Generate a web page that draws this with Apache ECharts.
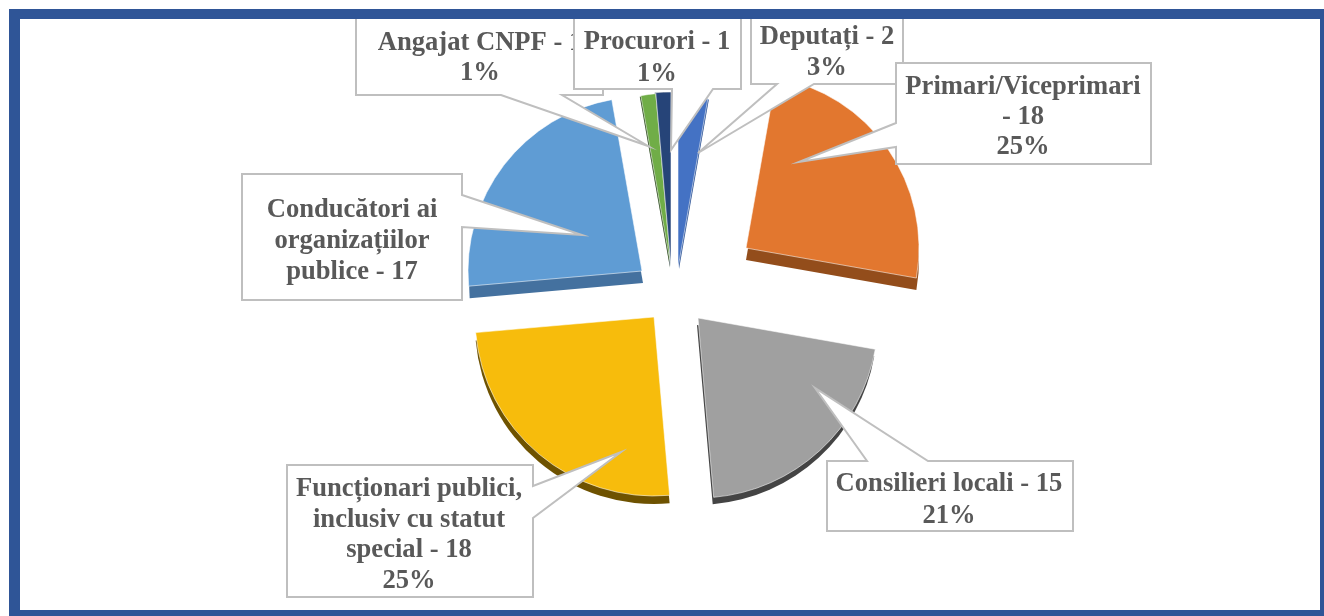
<!DOCTYPE html>
<html><head><meta charset="utf-8">
<style>html,body{margin:0;padding:0;background:#fff}#c{width:1324px;height:616px}</style>
<script src="https://cdn.jsdelivr.net/npm/echarts@6/dist/echarts.min.js"></script>
</head><body><div id="c"></div>
<script>
// data, clockwise from 12 o'clock
const categories = ['Deputați','Primari/Viceprimari','Consilieri locali','Funcționari publici, inclusiv cu statut special','Conducători ai organizațiilor publice','Angajat CNPF','Procurori'];
const seriesValues = [2,18,15,18,17,1,1];
const percentLabels = ['3%','25%','21%','25%','','1%','1%'];
const sliceColors = ['#4472c4','#e2772f','#a0a0a0','#f7bc0c','#5f9cd4','#70ad47','#264478'];
const sideColors = ['#2f5597','#934d1b','#444444','#6e5200','#44719f','#2b4a1c','#17294a'];

// exploded-slice layout (tip position, radius, extrusion offset)
const slices = [
  {c:[678,268], r:172, d:[1,1]},
  {c:[746,248], r:173, d:[0,12]},
  {c:[698,318], r:180, d:[-1,7]},
  {c:[654,317], r:179, d:[0,8]},
  {c:[642,271], r:174, d:[1,12]},
  {c:[671,267], r:174, d:[-1,1]},
  {c:[671,267], r:175, d:[-1,0]}
];

function pieFor(i, cx, cy, color, isTop){
  return {
    type:'pie', silent:true, clockwise:true, startAngle:90, animation:false,
    center:[cx,cy], radius:[0,slices[i].r], avoidLabelOverlap:false,
    label:{show:false}, labelLine:{show:false}, z:isTop?3:2,
    data: seriesValues.map((v,k)=>({
      value:v, name:categories[k],
      itemStyle: k===i
        ? (isTop?{color, borderColor:'rgba(255,255,255,0.55)', borderWidth:1}:{color})
        : {color:'rgba(0,0,0,0)', opacity:0}
    }))
  };
}
const series=[];
slices.forEach((s,i)=>series.push(pieFor(i,s.c[0]+s.d[0],s.c[1]+s.d[1],sideColors[i],false)));
slices.forEach((s,i)=>series.push(pieFor(i,s.c[0],s.c[1],sliceColors[i],true)));

// callouts, in draw order (later ones overlap earlier ones)
const callouts = [
  {i:5, name:'Angajat CNPF', pts:[[356,15],[603,15],[603,95],[562,95],[648,146],[501,95],[356,95]], tx:480, ty:[43,73]},
  {i:6, name:'Procurori', pts:[[574,15],[741,15],[741,89],[713,89],[671,150],[672,89],[574,89]], tx:657, ty:[42,74]},
  {i:0, name:'Deputați', pts:[[751,15],[903,15],[903,84],[814,84],[698,153],[777,84],[751,84]], tx:827, ty:[37,68]},
  {i:1, name:'Primari/Viceprimari\n- ', pts:[[896,63],[1151,63],[1151,164],[896,164],[896,147],[799,162],[896,123]], tx:1023, ty:[87,117,147]},
  {i:4, name:'Conducători ai\norganizațiilor\npublice', pts:[[242,174],[462,174],[462,195],[582,235],[462,227],[462,300],[242,300]], tx:352, ty:[210,241,272]},
  {i:3, name:'Funcționari publici,\ninclusiv cu statut\nspecial', pts:[[287,465],[533,465],[533,486],[621,452],[533,518],[533,597],[287,597]], tx:409, ty:[489,520,550,581]},
  {i:2, name:'Consilieri locali', pts:[[827,461],[867,461],[815,388],[928,461],[1073,461],[1073,531],[827,531]], tx:949, ty:[484,516]}
];
const graphics=[];
callouts.forEach((c,n)=>{
  const z=10+n*2;
  graphics.push({type:'polygon', z, silent:true, shape:{points:c.pts}, style:{fill:'#fff', stroke:'#bfbfbf', lineWidth:2}});
  const head = c.name.endsWith('- ') ? c.name+seriesValues[c.i] : c.name+' - '+seriesValues[c.i];
  const lines = head.split('\n').concat(percentLabels[c.i]?[percentLabels[c.i]]:[]);
  lines.forEach((t,k)=>graphics.push({type:'text', z:z+1, silent:true, x:c.tx, y:c.ty[k],
    style:{text:t, fill:'#595959', font:'bold 26.6px "Liberation Serif"', align:'center', verticalAlign:'middle'}}));
});
// frame
const frame='#2f5597';
[[9,9,1315,10],[9,9,11,607],[1320,9,4,607],[9,610,1315,6]].forEach(r=>graphics.push({type:'rect', z:50, silent:true, shape:{x:r[0],y:r[1],width:r[2],height:r[3]}, style:{fill:frame}}));

const chart=echarts.init(document.getElementById('c'),null,{renderer:'canvas'});
chart.setOption({animation:false, backgroundColor:'#fff', series, graphic:{elements:graphics}});
</script></body></html>
